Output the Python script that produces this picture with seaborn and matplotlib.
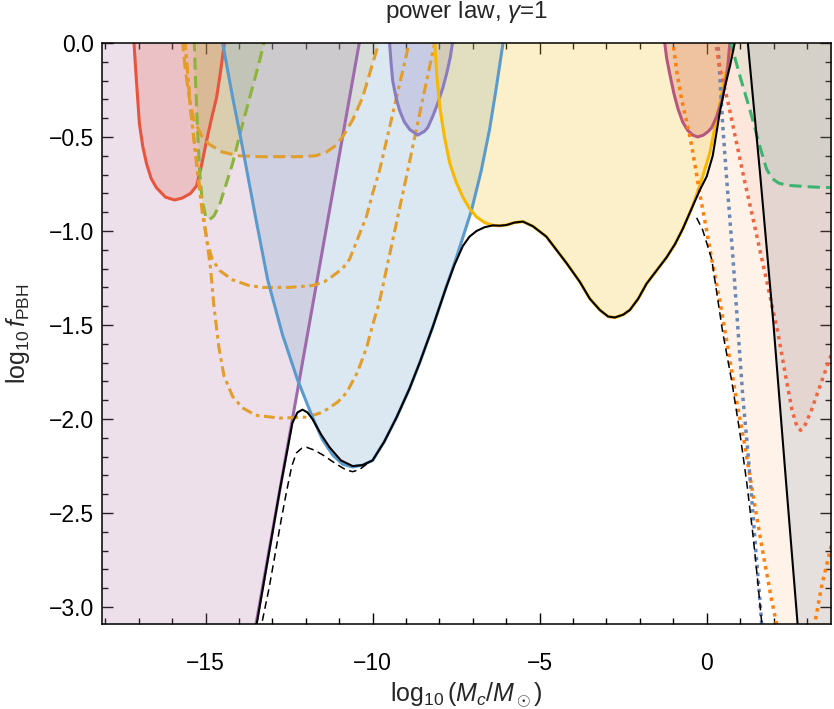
import numpy as np
import matplotlib
matplotlib.use("Agg")
import matplotlib.pyplot as plt
import seaborn as sns
from matplotlib.ticker import MultipleLocator, FuncFormatter

# values (log10 M_c/M_sun , log10 f_PBH)
XMIN, XMAX = -18.1, 3.72
YMIN, YMAX = -3.09, 0.0

# purple straight line, filled to the left
purple_x = [-13.6, -10.3]
purple_y = [-3.2, 0.1]

# red solid U
red_x = [-17.15, -17.07, -16.98, -16.88, -16.77, -16.63, -16.47, -16.2, -15.93, -15.7, -15.45, -15.27,
         -15.12, -14.97, -14.82, -14.67, -14.55, -14.42]
red_y = [0.02, -0.2, -0.43, -0.55, -0.64, -0.72, -0.77, -0.82, -0.835, -0.825, -0.8, -0.76,
         -0.65, -0.52, -0.4, -0.29, -0.15, 0.02]

# green dashed V (left)
gv_x = [-15.34, -15.3, -15.24, -15.18, -15.1, -15.0, -14.88, -14.75, -14.58, -14.4, -14.19, -13.95,
        -13.68, -13.45, -13.22]
gv_y = [0.02, -0.2, -0.46, -0.68, -0.84, -0.92, -0.94, -0.92, -0.86, -0.76, -0.64, -0.47,
        -0.29, -0.14, 0.02]

# orange dashed bowls
o1_x = [-15.7, -15.62, -15.5, -15.35, -15.1, -14.88, -14.5, -14.0, -13.38, -12.19, -11.7, -11.38,
        -11.1, -10.9, -10.6, -10.3, -10.05, -9.78]
o1_y = [0.02, -0.12, -0.28, -0.41, -0.5, -0.54, -0.58, -0.6, -0.605, -0.605, -0.6, -0.58,
        -0.545, -0.5, -0.41, -0.29, -0.14, 0.02]
o2_x = [-15.62, -15.45, -15.25, -15.1, -14.95, -14.8, -14.58, -14.19, -13.7, -13.29, -12.5, -11.8,
        -11.45, -11.2, -10.9, -10.69, -10.4, -10.18, -10.0, -9.79, -9.35, -8.88]
o2_y = [0.02, -0.35, -0.68, -0.9, -1.06, -1.15, -1.21, -1.26, -1.29, -1.3, -1.3, -1.29,
        -1.27, -1.24, -1.2, -1.15, -1.02, -0.92, -0.8, -0.676, -0.34, 0.02]
o3_x = [-15.62, -15.45, -15.2, -15.0, -14.85, -14.75, -14.6, -14.45, -14.19, -13.9, -13.5, -12.78,
        -11.98, -11.6, -11.38, -11.05, -10.78, -10.45, -10.18, -10.0, -9.8, -9.0, -8.12]
o3_y = [0.02, -0.35, -0.73, -1.0, -1.2, -1.4, -1.62, -1.77, -1.88, -1.94, -1.98, -1.995,
        -1.99, -1.97, -1.95, -1.91, -1.86, -1.75, -1.62, -1.5, -1.38, -0.72, 0.02]

# blue solid
blue_x = [-14.51, -14.2, -13.9, -13.5, -13.14, -12.7, -12.25, -11.8, -11.5, -11.2, -10.9, -10.6,
          -10.3, -10.0, -9.65, -9.28, -8.9, -8.59, -8.2, -7.8, -7.49, -7.04, -6.75, -6.5, -6.3, -6.08]
blue_y = [0.02, -0.28, -0.55, -0.93, -1.26, -1.55, -1.79, -1.99, -2.11, -2.19, -2.24, -2.255,
          -2.245, -2.22, -2.12, -1.99, -1.84, -1.7, -1.51, -1.3, -1.14, -0.89, -0.68, -0.46, -0.24, 0.02]

# lavender U
lav_x = [-9.5, -9.45, -9.4, -9.3, -9.19, -9.05, -8.89, -8.65, -8.45, -8.35, -8.2, -8.05, -7.9, -7.78,
         -7.68, -7.59]
lav_y = [0.02, -0.1, -0.2, -0.29, -0.36, -0.42, -0.46, -0.49, -0.47, -0.45, -0.39, -0.32, -0.24, -0.16,
         -0.08, 0.02]

# yellow solid
yel_x = [-8.15, -8.08, -7.99, -7.85, -7.69, -7.5, -7.3, -7.1, -6.89, -6.65, -6.4, -6.2, -5.99, -5.75,
         -5.5, -5.2, -4.8, -4.5, -4.2, -3.8, -3.5, -3.2, -2.95, -2.75, -2.5, -2.3, -2.05, -1.8, -1.5,
         -1.2, -0.95, -0.72, -0.45, -0.2, 0.1, 0.33, 0.55, 0.8]
yel_y = [0.02, -0.17, -0.34, -0.5, -0.64, -0.74, -0.82, -0.88, -0.925, -0.955, -0.97, -0.972, -0.968, -0.955,
         -0.95, -0.975, -1.03, -1.1, -1.17, -1.27, -1.36, -1.42, -1.455, -1.46, -1.445, -1.42, -1.36, -1.28, -1.21,
         -1.14, -1.07, -0.99, -0.88, -0.755, -0.58, -0.37, -0.18, 0.02]

# mauve U
mau_x = [-1.27, -1.2, -1.1, -0.98, -0.86, -0.72, -0.57, -0.42, -0.27, -0.1, 0.05, 0.15, 0.3, 0.45,
         0.55, 0.63, 0.7]
mau_y = [0.02, -0.08, -0.17, -0.27, -0.35, -0.42, -0.465, -0.49, -0.5, -0.49, -0.47, -0.45, -0.39, -0.31,
         -0.22, -0.13, 0.02]

# orange dotted (right), filled to the right
od_x = [-1.02, -0.9, -0.75, -0.5, -0.35, -0.21, 0.0, 0.15, 0.39, 0.64, 0.89, 1.16, 1.41, 1.67, 1.94,
        2.09, 2.13]
od_y = [0.02, -0.15, -0.3, -0.5, -0.65, -0.8, -1.0, -1.15, -1.37, -1.63, -1.9, -2.16, -2.43, -2.7, -2.96,
        -3.09, -3.15]

# blue dotted
bd_x = [0.33, 0.4, 0.48, 0.6, 0.78, 0.93, 1.08, 1.22, 1.35, 1.47, 1.59, 1.67]
bd_y = [0.02, -0.2, -0.44, -0.73, -1.13, -1.51, -1.88, -2.15, -2.43, -2.7, -2.96, -3.15]

# red dotted V
rd_x = [0.26, 0.32, 0.39, 0.63, 1.14, 1.38, 1.75, 2.13, 2.35, 2.55, 2.7, 2.81, 2.95, 3.14, 3.4,
        3.62, 3.8]
rd_y = [0.02, -0.06, -0.13, -0.31, -0.74, -0.93, -1.23, -1.54, -1.76, -1.95, -2.04, -2.06, -2.03,
        -1.95, -1.82, -1.71, -1.62]

# orange dotted (bottom right corner)
od2_x = [3.21, 3.23, 3.45, 3.68, 3.8]
od2_y = [-3.15, -3.09, -2.88, -2.71, -2.62]

# green dashed (right)
gd_x = [0.69, 1.0, 1.3, 1.59, 1.79, 1.95, 2.15, 2.4, 3.17, 3.8]
gd_y = [0.02, -0.18, -0.36, -0.55, -0.67, -0.72, -0.745, -0.757, -0.766, -0.77]

# black solid line on the right, filled to the right
bl_x = [1.22, 1.6, 2.0, 2.35, 2.72, 2.75]
bl_y = [0.02, -0.7, -1.5, -2.28, -3.09, -3.15]

# black solid envelope
env_x = [-13.6, -13.47, -12.78, -12.4, -12.25, -12.1, -11.95, -11.8, -11.55, -11.29, -10.95, -10.6,
         -10.3, -10.0, -9.65, -9.28, -8.9, -8.59, -8.2, -7.8, -7.55, -7.3, -7.1, -6.89, -6.65, -6.4,
         -6.2, -5.99, -5.75, -5.5, -5.2, -4.8, -4.5, -4.2, -3.8, -3.5, -3.2, -2.95, -2.75, -2.5, -2.3,
         -2.05, -1.8, -1.5, -1.2, -0.95, -0.72, -0.45, -0.2, 0.0, 0.18, 0.39, 0.55, 0.7, 0.86]
env_y = [-3.2, -3.09, -2.38, -2.02, -1.965, -1.95, -1.965, -2.0, -2.08, -2.15, -2.22, -2.25,
         -2.245, -2.22, -2.12, -1.99, -1.84, -1.7, -1.51, -1.3, -1.18, -1.08, -1.03, -1.0, -0.98, -0.97,
         -0.972, -0.968, -0.955, -0.95, -0.975, -1.03, -1.1, -1.17, -1.27, -1.36, -1.42, -1.455, -1.46,
         -1.445, -1.42, -1.36, -1.28, -1.21, -1.14, -1.07, -0.99, -0.88, -0.78, -0.71, -0.6, -0.37,
         -0.23, -0.12, 0.02]

# black dashed envelope pieces
dl_x = [-13.45, -13.32, -13.1, -12.9, -12.72, -12.57, -12.42, -12.28, -12.12, -11.98, -11.75, -11.5,
        -11.25, -10.99, -10.8, -10.6, -10.4, -10.18]
dl_y = [-3.2, -3.09, -2.9, -2.7, -2.52, -2.38, -2.25, -2.18, -2.155, -2.15, -2.165, -2.19,
        -2.22, -2.25, -2.27, -2.28, -2.27, -2.24]
dr_x = [-0.3, -0.12, 0.15, 0.48, 0.75, 0.99, 1.2, 1.38, 1.52, 1.65, 1.68]
dr_y = [-0.93, -0.995, -1.15, -1.54, -1.8, -2.07, -2.34, -2.61, -2.85, -3.09, -3.15]

sns.set_style("ticks")
plt.rcParams["font.family"] = ["Liberation Sans", "DejaVu Sans"]
plt.rcParams["mathtext.fontset"] = "custom"
plt.rcParams["mathtext.rm"] = "Liberation Sans"
plt.rcParams["mathtext.it"] = "Liberation Sans:italic"
plt.rcParams["mathtext.bf"] = "Liberation Sans:bold"

fig = plt.figure(figsize=(8.34, 7.09), dpi=100)
ax = fig.add_axes([0.1223, 0.1199, 0.8741, 0.8195])

# fills
ax.fill_betweenx(purple_y, XMIN - 1, purple_x, color="#b77faf", alpha=0.24, lw=0, zorder=1)
ax.fill_betweenx(od_y, od_x, XMAX + 1, color="#ff7f0e", alpha=0.09, lw=0, zorder=1)
ax.fill_betweenx(bl_y, bl_x, XMAX + 1, color="#8090b0", alpha=0.2, lw=0, zorder=1)
ax.fill_between(rd_x, rd_y, 0.1, color="#e8553f", alpha=0.07, lw=0, zorder=1)
ax.fill_between(gd_x, gd_y, 0.1, color="#3cb371", alpha=0.09, lw=0, zorder=1)
ax.fill(red_x, red_y, color="#e8553f", alpha=0.22, lw=0, zorder=1)
ax.fill(gv_x, gv_y, color="#8cb43a", alpha=0.2, lw=0, zorder=1)
ax.fill(o1_x, o1_y, color="#e29d2b", alpha=0.15, lw=0, zorder=1)
ax.fill(blue_x, blue_y, color="#77a7cb", alpha=0.25, lw=0, zorder=1)
ax.fill(lav_x, lav_y, color="#8a7cc0", alpha=0.25, lw=0, zorder=1)
ax.fill(yel_x, yel_y, color="#f7c733", alpha=0.25, lw=0, zorder=1)
ax.fill(mau_x, mau_y, color="#c9584e", alpha=0.25, lw=0, zorder=1)

def line(x, y, color, lw, ls="-", z=3):
    sns.lineplot(x=x, y=y, sort=False, estimator=None, color=color, lw=lw, ax=ax, zorder=z)
    ln = ax.lines[-1]
    ln.set_linestyle(ls)
    ln.set_dash_capstyle("butt")
    ln.set_solid_joinstyle("round")
    return ln

dot = (0, (1.0, 1.3))
line(purple_x, purple_y, "#9d6aab", 2.2)
line(red_x, red_y, "#e8553f", 2.2)
line(gv_x, gv_y, "#8cb43a", 2.2, (0, (4, 2)))
line(o1_x, o1_y, "#e29d2b", 2.2, (0, (4, 1.8)))
line(o2_x, o2_y, "#e29d2b", 2.2, (0, (3.5, 1.5, 1.2, 1.5)))
line(o3_x, o3_y, "#e29d2b", 2.2, (0, (3.5, 1.5, 1.2, 1.5)))
line(blue_x, blue_y, "#5b9bcc", 2.2)
line(lav_x, lav_y, "#8a7cc0", 2.2)
line(yel_x, yel_y, "#f8b800", 2.2)
line(mau_x, mau_y, "#b8577e", 2.2)
line(od_x, od_y, "#ff7f0e", 2.5, dot)
line(bd_x, bd_y, "#6a86b6", 2.5, dot)
line(rd_x, rd_y, "#f0643f", 2.5, dot)
line(od2_x, od2_y, "#ff7f0e", 2.5, dot)
line(gd_x, gd_y, "#3cb371", 2.2, (0, (4, 2)))
line(bl_x, bl_y, "black", 1.5, z=4)
line(env_x, env_y, "black", 1.5, z=4)
line(dl_x, dl_y, "black", 1.1, (0, (5, 3)), z=4)
line(dr_x, dr_y, "black", 1.1, (0, (5, 3)), z=4)

ax.set_xlim(XMIN, XMAX)
ax.set_ylim(YMIN, YMAX)
ax.xaxis.set_major_locator(MultipleLocator(5))
ax.xaxis.set_minor_locator(MultipleLocator(1))
ax.yaxis.set_major_locator(MultipleLocator(0.5))
ax.yaxis.set_minor_locator(MultipleLocator(0.1))
ax.xaxis.set_major_formatter(FuncFormatter(lambda v, p: f"{v:.0f}".replace("-", "\u2212")))
ax.yaxis.set_major_formatter(FuncFormatter(lambda v, p: f"{v:.1f}".replace("-", "\u2212")))
ax.tick_params(which="both", direction="in", top=True, right=True, colors="black", labelsize=16.5, width=1)
ax.tick_params(which="major", length=8)
ax.tick_params(which="minor", length=4)
ax.tick_params(axis="x", pad=20)
ax.tick_params(axis="y", pad=6)
for s in ax.spines.values():
    s.set_color("black")
    s.set_linewidth(1.1)
    s.set_zorder(6)

ax.set_title(r"power law, $\gamma$=1", fontsize=17.5, pad=18)
ax.set_xlabel(r"$\log_{10}(M_c/M_\odot)$", fontsize=18, labelpad=4)
ax.set_ylabel(r"$\log_{10}f_{\rm PBH}$", fontsize=18, labelpad=12)

fig.savefig("out.png", dpi=100)
